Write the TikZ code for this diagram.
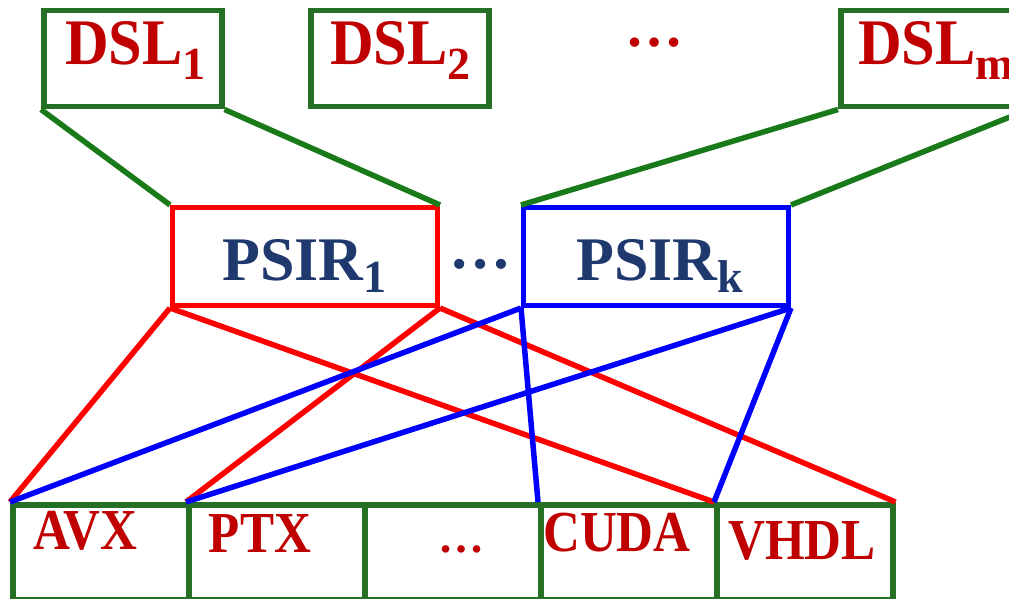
\documentclass[tikz,border=0pt]{standalone}
\usepackage{fontspec}
\setmainfont{Liberation Serif}
\definecolor{boxgreen}{RGB}{38,112,38}
\definecolor{linkgreen}{RGB}{24,122,24}
\definecolor{labelred}{RGB}{192,0,0}
\definecolor{irnavy}{RGB}{31,56,110}
\definecolor{irred}{RGB}{255,0,0}
\definecolor{irblue}{RGB}{0,0,255}
% subscript set at a fixed size below the baseline
\newcommand{\lowidx}[2]{\raisebox{-#1pt}{\fontsize{46}{46}\selectfont #2}}
\newcommand{\narrowtext}[1]{\scalebox{0.88}[1]{#1}}
\begin{document}
\begin{tikzpicture}[x=1pt,y=-1pt,
  dslbox/.style={draw=boxgreen,line width=5.5pt,minimum width=178pt,minimum height=96pt,anchor=north west,inner sep=0pt},
  irbox/.style={line width=5pt,minimum width=265pt,minimum height=98pt,anchor=north west,inner sep=0pt},
  tgtbox/.style={draw=boxgreen,line width=5.5pt,minimum width=176pt,minimum height=95pt,anchor=north west,inner sep=0pt},
  dsltext/.style={text=labelred,font=\fontsize{65}{65}\selectfont\bfseries,anchor=base west,inner sep=0pt},
  irtext/.style={text=irnavy,font=\fontsize{62}{62}\selectfont\bfseries,anchor=base west,inner sep=0pt},
  tgttext/.style={text=labelred,font=\fontsize{58}{58}\selectfont\bfseries,anchor=base,inner sep=0pt},
  glink/.style={draw=linkgreen,line width=5.5pt},
  rlink/.style={draw=irred,line width=5.5pt},
  blink/.style={draw=irblue,line width=5.5pt}]
\useasboundingbox (0,0) rectangle (1009,599);
\clip (0,0) rectangle (1009,599);

% front-end languages
\node[dslbox] (dsl1) at (41,8) {};
\node[dslbox] (dsl2) at (308,8) {};
\node[dslbox,minimum width=185pt] (dslm) at (838,8) {};
\node[dsltext] (dsl1t) at (65,65) {\scalebox{0.93}[1]{DSL}\lowidx{15}{1}};
\node[dsltext] (dsl2t) at (330,65) {\scalebox{0.93}[1]{DSL}\lowidx{15}{2}};
\node[dsltext] (dslmt) at (858,65) {\scalebox{0.93}[1]{DSL}\lowidx{15}{m}};
\node[dsltext,anchor=base] (dsldots) at (654,47) {\fontsize{58}{58}\selectfont …};

% intermediate representations
\node[irbox,draw=irred] (psir1) at (170,205) {};
\node[irbox,draw=irblue] (psirk) at (521,205) {};
\node[irtext] (psir1t) at (222,280) {PSIR\lowidx{12}{1}};
\node[irtext] (psirkt) at (576,280) {PSIR\lowidx{12}{k}};
\node[irtext,anchor=base] (irdots) at (480,268) {\fontsize{62}{62}\selectfont …};

% back-end targets
\node[tgtbox] (avx) at (10,502) {};
\node[tgtbox] (ptx) at (186,502) {};
\node[tgtbox] (tdots) at (362,502) {};
\node[tgtbox] (cuda) at (538,502) {};
\node[tgtbox] (vhdl) at (714,502) {};
\node[tgttext] (avxt) at (85,549) {\narrowtext{AVX}};
\node[tgttext] (ptxt) at (260,552) {\narrowtext{PTX}};
\node[tgttext] (tdotst) at (461,552) {\fontsize{46}{46}\selectfont …};
\node[tgttext] (cudat) at (617,551) {\narrowtext{CUDA}};
\node[tgttext] (vhdlt) at (802,559) {\narrowtext{VHDL}};

% DSL to PSIR links
\draw[glink] (dsl1.south west) -- (psir1.north west);
\draw[glink] (dsl1.south east) -- (psir1.north east);
\draw[glink] (dslm.south west) -- (psirk.north west);
\draw[glink] (dslm.south east) -- (psirk.north east);

% PSIR to target links
\draw[rlink] (psir1.south west) -- (avx.north west);
\draw[rlink] (psir1.south west) -- (vhdl.north west);
\draw[rlink] (psir1.south east) -- (ptx.north west);
\draw[rlink] (psir1.south east) -- (vhdl.north east);
\draw[blink] (psirk.south west) -- (avx.north west);
\draw[blink] (psirk.south west) -- (cuda.north west);
\draw[blink] (psirk.south east) -- (ptx.north west);
\draw[blink] (psirk.south east) -- (vhdl.north west);
\end{tikzpicture}
\end{document}
